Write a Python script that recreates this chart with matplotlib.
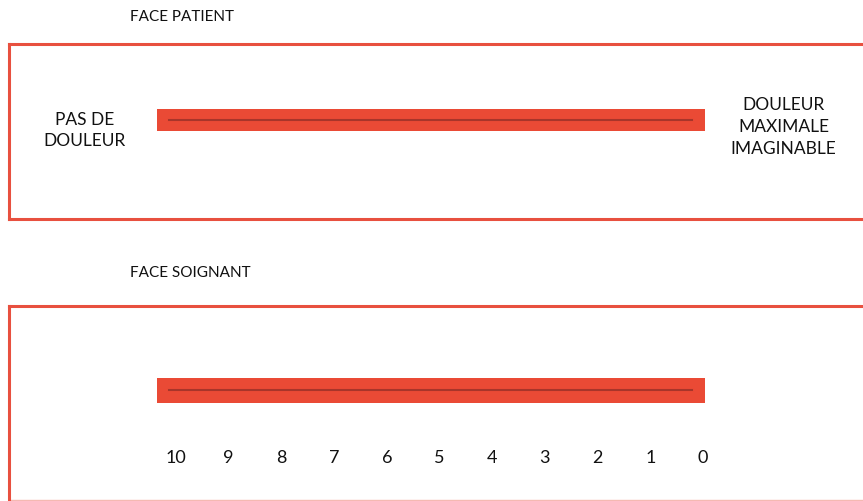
import numpy as np
import matplotlib.pyplot as plt

# scale (face soignant), read right to left
scale_values = [10, 9, 8, 7, 6, 5, 4, 3, 2, 1, 0]
panel_titles = ["FACE PATIENT", "FACE SOIGNANT"]
left_label = "PAS DE\nDOULEUR"
right_label = "DOULEUR\nMAXIMALE\nIMAGINABLE"

red = "#EA4A35"
dark = "#A8352A"
edge = "#E8503F"

plt.rcParams['font.family'] = ['Lato', 'DejaVu Sans']

W, H = 863, 502
fig = plt.figure(figsize=(W / 100, H / 100), dpi=100)


def px_axes(x0, y0, x1, y1):
    # pixel box (top-left origin) -> figure fraction axes
    return fig.add_axes([x0 / W, 1 - y1 / H, (x1 - x0) / W, (y1 - y0) / H])


# data coordinates: value v sits at 176 + (10 - v) * 52.7 px
xlim = (10 + (176 - 9) / 52.7, 10 - (870 - 176) / 52.7)

boxes = [(9, 45, 870, 220), (9, 307, 870, 501)]
axes = []
for b in boxes:
    ax = px_axes(*b)
    ax.set_xlim(*xlim)
    ax.set_ylim(0, 1)
    ax.set_xticks([])
    ax.set_yticks([])
    for s in ax.spines.values():
        s.set_color(edge)
        s.set_linewidth(2.2)
    ax.spines['right'].set_visible(False)
    # the visual analogue bar
    ax.barh(0.566, width=-10.4, left=10.36, height=0.13, color=red, zorder=2)
    ax.plot([10.13, 0.21], [0.566, 0.566], color=dark, lw=1.5, zorder=3)
    axes.append(ax)

ax_top, ax_bot = axes
ax_bot.spines['bottom'].set_linewidth(1.0)
ax_bot.spines['bottom'].set_alpha(0.4)

ax_top.text(11.73, 0.511, left_label, ha='center', va='center', fontsize=12.5,
            linespacing=1.45, color='#111111')
ax_top.text(-1.527, 0.531, right_label, ha='center', va='center', fontsize=12.5,
            linespacing=1.45, color='#111111')

for v in scale_values:
    ax_bot.text(v, 0.222, str(v), ha='center', va='center', fontsize=13,
                color='#111111')

fig.text(130 / W, 1 - 17 / H, panel_titles[0], ha='left', va='center',
         fontsize=11, color='#111111')
fig.text(130 / W, 1 - 273 / H, panel_titles[1], ha='left', va='center',
         fontsize=11, color='#111111')

fig.savefig("out.png", dpi=100)
